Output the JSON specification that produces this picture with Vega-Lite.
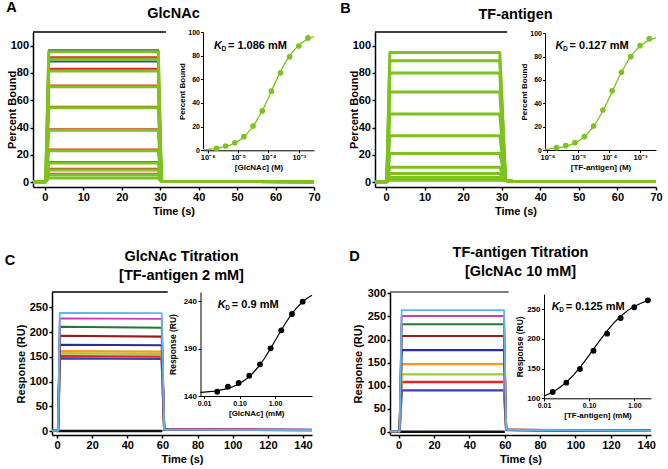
{
"$schema":"https://vega.github.io/schema/vega-lite/v6.json",
"padding":{"left":4,"top":0,"right":0,"bottom":0},
"background":"white",
"config":{
 "font":"Liberation Sans",
 "view":{"stroke":null},
 "axis":{"grid":false,"domainColor":"#000","domainWidth":1.5,"tickColor":"#000","tickWidth":1.5,"tickSize":3,"labelColor":"#000","labelFont":"Liberation Sans","labelFontSize":11,"labelFontWeight":"bold","labelPadding":1.5,"labelFlush":false,"labelOverlap":false,"titleColor":"#000","titleFont":"Liberation Sans","titleFontSize":11,"titleFontWeight":"bold","titlePadding":3,"tickCount":30},
 "title":{"font":"Liberation Sans","fontWeight":"bold","color":"#000","fontSize":14.5},
 "line":{"strokeJoin":"round"}
},
"datasets":{
 "trA":[
{"run":"g","conc":1,"t":-3.1,"v":0.3},{"run":"g","conc":1,"t":0.2,"v":0.3},{"run":"g","conc":1,"t":1,"v":95.5},{"run":"g","conc":1,"t":29.5,"v":95.5},{"run":"g","conc":1,"t":30.3,"v":0.6},{"run":"g","conc":1,"t":70,"v":0.4},
{"run":"g","conc":2,"t":-3.1,"v":0.3},{"run":"g","conc":2,"t":0.2,"v":0.3},{"run":"g","conc":2,"t":1,"v":90},{"run":"g","conc":2,"t":29.5,"v":90},{"run":"g","conc":2,"t":30.3,"v":0.6},{"run":"g","conc":2,"t":70,"v":0.4},
{"run":"g","conc":3,"t":-3.1,"v":0.3},{"run":"g","conc":3,"t":0.2,"v":0.3},{"run":"g","conc":3,"t":1,"v":81.5},{"run":"g","conc":3,"t":29.5,"v":81.5},{"run":"g","conc":3,"t":30.3,"v":0.6},{"run":"g","conc":3,"t":70,"v":0.4},
{"run":"g","conc":4,"t":-3.1,"v":0.3},{"run":"g","conc":4,"t":0.2,"v":0.3},{"run":"g","conc":4,"t":1,"v":70},{"run":"g","conc":4,"t":29.5,"v":70},{"run":"g","conc":4,"t":30.3,"v":0.6},{"run":"g","conc":4,"t":70,"v":0.4},
{"run":"g","conc":5,"t":-3.1,"v":0.3},{"run":"g","conc":5,"t":0.2,"v":0.3},{"run":"g","conc":5,"t":1,"v":54.5},{"run":"g","conc":5,"t":29.5,"v":54.5},{"run":"g","conc":5,"t":30.3,"v":0.6},{"run":"g","conc":5,"t":70,"v":0.4},
{"run":"g","conc":6,"t":-3.1,"v":0.3},{"run":"g","conc":6,"t":0.2,"v":0.3},{"run":"g","conc":6,"t":1,"v":38},{"run":"g","conc":6,"t":29.5,"v":38},{"run":"g","conc":6,"t":30.3,"v":0.6},{"run":"g","conc":6,"t":70,"v":0.4},
{"run":"g","conc":7,"t":-3.1,"v":0.3},{"run":"g","conc":7,"t":0.2,"v":0.3},{"run":"g","conc":7,"t":1,"v":23},{"run":"g","conc":7,"t":29.5,"v":23},{"run":"g","conc":7,"t":30.3,"v":0.6},{"run":"g","conc":7,"t":70,"v":0.4},
{"run":"g","conc":8,"t":-3.1,"v":0.3},{"run":"g","conc":8,"t":0.2,"v":0.3},{"run":"g","conc":8,"t":1,"v":14},{"run":"g","conc":8,"t":29.5,"v":14},{"run":"g","conc":8,"t":30.3,"v":0.6},{"run":"g","conc":8,"t":70,"v":0.4},
{"run":"g","conc":9,"t":-3.1,"v":0.3},{"run":"g","conc":9,"t":0.2,"v":0.3},{"run":"g","conc":9,"t":1,"v":9},{"run":"g","conc":9,"t":29.5,"v":9},{"run":"g","conc":9,"t":30.3,"v":0.6},{"run":"g","conc":9,"t":70,"v":0.4},
{"run":"g","conc":10,"t":-3.1,"v":0.3},{"run":"g","conc":10,"t":0.2,"v":0.3},{"run":"g","conc":10,"t":1,"v":5.5},{"run":"g","conc":10,"t":29.5,"v":5.5},{"run":"g","conc":10,"t":30.3,"v":0.6},{"run":"g","conc":10,"t":70,"v":0.4},
{"run":"g","conc":11,"t":-3.1,"v":0.3},{"run":"g","conc":11,"t":0.2,"v":0.3},{"run":"g","conc":11,"t":1,"v":3},{"run":"g","conc":11,"t":29.5,"v":3},{"run":"g","conc":11,"t":30.3,"v":0.6},{"run":"g","conc":11,"t":70,"v":0.4},
{"run":"r","conc":1,"t":-3.1,"v":0.5},{"run":"r","conc":1,"t":0.2,"v":0.5},{"run":"r","conc":1,"t":1,"v":91.5},{"run":"r","conc":1,"t":29.5,"v":91.5},{"run":"r","conc":1,"t":30.3,"v":1},{"run":"r","conc":1,"t":70,"v":0.5},
{"run":"r","conc":2,"t":-3.1,"v":0.5},{"run":"r","conc":2,"t":0.2,"v":0.5},{"run":"r","conc":2,"t":1,"v":83},{"run":"r","conc":2,"t":29.5,"v":83},{"run":"r","conc":2,"t":30.3,"v":1},{"run":"r","conc":2,"t":70,"v":0.5},
{"run":"r","conc":3,"t":-3.1,"v":0.5},{"run":"r","conc":3,"t":0.2,"v":0.5},{"run":"r","conc":3,"t":1,"v":70.8},{"run":"r","conc":3,"t":29.5,"v":70.8},{"run":"r","conc":3,"t":30.3,"v":1},{"run":"r","conc":3,"t":70,"v":0.5},
{"run":"r","conc":4,"t":-3.1,"v":0.5},{"run":"r","conc":4,"t":0.2,"v":0.5},{"run":"r","conc":4,"t":1,"v":55.2},{"run":"r","conc":4,"t":29.5,"v":55.2},{"run":"r","conc":4,"t":30.3,"v":1},{"run":"r","conc":4,"t":70,"v":0.5},
{"run":"r","conc":5,"t":-3.1,"v":0.5},{"run":"r","conc":5,"t":0.2,"v":0.5},{"run":"r","conc":5,"t":1,"v":38.8},{"run":"r","conc":5,"t":29.5,"v":38.8},{"run":"r","conc":5,"t":30.3,"v":1},{"run":"r","conc":5,"t":70,"v":0.5},
{"run":"r","conc":6,"t":-3.1,"v":0.5},{"run":"r","conc":6,"t":0.2,"v":0.5},{"run":"r","conc":6,"t":1,"v":23.8},{"run":"r","conc":6,"t":29.5,"v":23.8},{"run":"r","conc":6,"t":30.3,"v":1},{"run":"r","conc":6,"t":70,"v":0.5},
{"run":"r","conc":7,"t":-3.1,"v":0.5},{"run":"r","conc":7,"t":0.2,"v":0.5},{"run":"r","conc":7,"t":1,"v":14.8},{"run":"r","conc":7,"t":29.5,"v":14.8},{"run":"r","conc":7,"t":30.3,"v":1},{"run":"r","conc":7,"t":70,"v":0.5},
{"run":"r","conc":8,"t":-3.1,"v":0.5},{"run":"r","conc":8,"t":0.2,"v":0.5},{"run":"r","conc":8,"t":1,"v":9.8},{"run":"r","conc":8,"t":29.5,"v":9.8},{"run":"r","conc":8,"t":30.3,"v":1},{"run":"r","conc":8,"t":70,"v":0.5},
{"run":"r","conc":9,"t":-3.1,"v":0.5},{"run":"r","conc":9,"t":0.2,"v":0.5},{"run":"r","conc":9,"t":1,"v":6.2},{"run":"r","conc":9,"t":29.5,"v":6.2},{"run":"r","conc":9,"t":30.3,"v":1},{"run":"r","conc":9,"t":70,"v":0.5},
{"run":"b","conc":1,"t":-3.1,"v":0.2},{"run":"b","conc":1,"t":0.2,"v":0.2},{"run":"b","conc":1,"t":1,"v":96.8},{"run":"b","conc":1,"t":29.5,"v":96.8},{"run":"b","conc":1,"t":30.3,"v":0.4},{"run":"b","conc":1,"t":70,"v":0.2},
{"run":"b","conc":2,"t":-3.1,"v":0.2},{"run":"b","conc":2,"t":0.2,"v":0.2},{"run":"b","conc":2,"t":1,"v":88.4},{"run":"b","conc":2,"t":29.5,"v":88.4},{"run":"b","conc":2,"t":30.3,"v":0.4},{"run":"b","conc":2,"t":70,"v":0.2}
 ],
 "trB":[
{"conc":1,"t":-2.85,"v":0.3},{"conc":1,"t":0.2,"v":0.3},{"conc":1,"t":1,"v":95},{"conc":1,"t":29.5,"v":95},{"conc":1,"t":31,"v":1.2},{"conc":1,"t":33,"v":0.6},{"conc":1,"t":70,"v":0.6},
{"conc":2,"t":-2.85,"v":0.3},{"conc":2,"t":0.2,"v":0.3},{"conc":2,"t":1,"v":89},{"conc":2,"t":29.5,"v":89},{"conc":2,"t":31,"v":1.2},{"conc":2,"t":33,"v":0.6},{"conc":2,"t":70,"v":0.6},
{"conc":3,"t":-2.85,"v":0.3},{"conc":3,"t":0.2,"v":0.3},{"conc":3,"t":1,"v":80},{"conc":3,"t":29.5,"v":80},{"conc":3,"t":31,"v":1.2},{"conc":3,"t":33,"v":0.6},{"conc":3,"t":70,"v":0.6},
{"conc":4,"t":-2.85,"v":0.3},{"conc":4,"t":0.2,"v":0.3},{"conc":4,"t":1,"v":66},{"conc":4,"t":29.5,"v":66},{"conc":4,"t":31,"v":1.2},{"conc":4,"t":33,"v":0.6},{"conc":4,"t":70,"v":0.6},
{"conc":5,"t":-2.85,"v":0.3},{"conc":5,"t":0.2,"v":0.3},{"conc":5,"t":1,"v":50},{"conc":5,"t":29.5,"v":50},{"conc":5,"t":31,"v":1.2},{"conc":5,"t":33,"v":0.6},{"conc":5,"t":70,"v":0.6},
{"conc":6,"t":-2.85,"v":0.3},{"conc":6,"t":0.2,"v":0.3},{"conc":6,"t":1,"v":34},{"conc":6,"t":29.5,"v":34},{"conc":6,"t":31,"v":1.2},{"conc":6,"t":33,"v":0.6},{"conc":6,"t":70,"v":0.6},
{"conc":7,"t":-2.85,"v":0.3},{"conc":7,"t":0.2,"v":0.3},{"conc":7,"t":1,"v":21},{"conc":7,"t":29.5,"v":21},{"conc":7,"t":31,"v":1.2},{"conc":7,"t":33,"v":0.6},{"conc":7,"t":70,"v":0.6},
{"conc":8,"t":-2.85,"v":0.3},{"conc":8,"t":0.2,"v":0.3},{"conc":8,"t":1,"v":11},{"conc":8,"t":29.5,"v":11},{"conc":8,"t":31,"v":1.2},{"conc":8,"t":33,"v":0.6},{"conc":8,"t":70,"v":0.6},
{"conc":9,"t":-2.85,"v":0.3},{"conc":9,"t":0.2,"v":0.3},{"conc":9,"t":1,"v":6.3},{"conc":9,"t":29.5,"v":6.3},{"conc":9,"t":31,"v":1.2},{"conc":9,"t":33,"v":0.6},{"conc":9,"t":70,"v":0.6},
{"conc":10,"t":-2.85,"v":0.3},{"conc":10,"t":0.2,"v":0.3},{"conc":10,"t":1,"v":3.4},{"conc":10,"t":29.5,"v":3.4},{"conc":10,"t":31,"v":1.2},{"conc":10,"t":33,"v":0.6},{"conc":10,"t":70,"v":0.6},
{"conc":11,"t":-2.85,"v":0.3},{"conc":11,"t":0.2,"v":0.3},{"conc":11,"t":1,"v":1.5},{"conc":11,"t":29.5,"v":1.5},{"conc":11,"t":31,"v":1.2},{"conc":11,"t":33,"v":0.6},{"conc":11,"t":70,"v":0.6}
 ],
 "trC":[
{"conc":0,"t":-0.3,"v":0},{"conc":0,"t":60,"v":0},
{"conc":1,"t":-2.85,"v":1},{"conc":1,"t":0.6,"v":1},{"conc":1,"t":1.6,"v":146.8},{"conc":1,"t":59.6,"v":145.8},{"conc":1,"t":61,"v":3},{"conc":1,"t":145.1,"v":2},
{"conc":2,"t":-2.85,"v":1},{"conc":2,"t":0.6,"v":1},{"conc":2,"t":1.6,"v":151.5},{"conc":2,"t":59.6,"v":150.5},{"conc":2,"t":61,"v":3},{"conc":2,"t":145.1,"v":2},
{"conc":3,"t":-2.85,"v":1},{"conc":3,"t":0.6,"v":1},{"conc":3,"t":1.6,"v":157},{"conc":3,"t":59.6,"v":156},{"conc":3,"t":61,"v":3},{"conc":3,"t":145.1,"v":2},
{"conc":4,"t":-2.85,"v":1},{"conc":4,"t":0.6,"v":1},{"conc":4,"t":1.6,"v":161.6},{"conc":4,"t":59.6,"v":160.6},{"conc":4,"t":61,"v":3},{"conc":4,"t":145.1,"v":2},
{"conc":5,"t":-2.85,"v":1},{"conc":5,"t":0.6,"v":1},{"conc":5,"t":1.6,"v":174.4},{"conc":5,"t":59.6,"v":173.4},{"conc":5,"t":61,"v":3},{"conc":5,"t":145.1,"v":2},
{"conc":6,"t":-2.85,"v":1},{"conc":6,"t":0.6,"v":1},{"conc":6,"t":1.6,"v":192.6},{"conc":6,"t":59.6,"v":190.8},{"conc":6,"t":61,"v":3},{"conc":6,"t":145.1,"v":2},
{"conc":7,"t":-2.85,"v":1},{"conc":7,"t":0.6,"v":1},{"conc":7,"t":1.6,"v":210.7},{"conc":7,"t":59.6,"v":208.7},{"conc":7,"t":61,"v":3},{"conc":7,"t":145.1,"v":2},
{"conc":8,"t":-2.85,"v":1},{"conc":8,"t":0.6,"v":1},{"conc":8,"t":1.6,"v":227.6},{"conc":8,"t":59.6,"v":226.6},{"conc":8,"t":61,"v":3.5},{"conc":8,"t":145.1,"v":2.5},
{"conc":9,"t":-2.85,"v":1},{"conc":9,"t":0.6,"v":1},{"conc":9,"t":1.6,"v":239},{"conc":9,"t":59.6,"v":238.5},{"conc":9,"t":61,"v":3},{"conc":9,"t":145.1,"v":2}
 ],
 "trD":[
{"conc":0,"t":-0.5,"v":0},{"conc":0,"t":60,"v":0},
{"conc":1,"t":-4.9,"v":1},{"conc":1,"t":0.5,"v":1},{"conc":1,"t":1.7,"v":89.8},{"conc":1,"t":59.6,"v":89.8},{"conc":1,"t":60.8,"v":4},{"conc":1,"t":142.7,"v":2},
{"conc":2,"t":-4.9,"v":1},{"conc":2,"t":0.5,"v":1},{"conc":2,"t":1.7,"v":107.8},{"conc":2,"t":59.6,"v":107.8},{"conc":2,"t":60.8,"v":4},{"conc":2,"t":142.7,"v":2},
{"conc":3,"t":-4.9,"v":1},{"conc":3,"t":0.5,"v":1},{"conc":3,"t":1.7,"v":124.5},{"conc":3,"t":59.6,"v":124.5},{"conc":3,"t":60.8,"v":4},{"conc":3,"t":142.7,"v":2},
{"conc":4,"t":-4.9,"v":1},{"conc":4,"t":0.5,"v":1},{"conc":4,"t":1.7,"v":146.8},{"conc":4,"t":59.6,"v":146.8},{"conc":4,"t":60.8,"v":4},{"conc":4,"t":142.7,"v":2},
{"conc":5,"t":-4.9,"v":1},{"conc":5,"t":0.5,"v":1},{"conc":5,"t":1.7,"v":177},{"conc":5,"t":59.6,"v":177},{"conc":5,"t":60.8,"v":4},{"conc":5,"t":142.7,"v":2},
{"conc":6,"t":-4.9,"v":1},{"conc":6,"t":0.5,"v":1},{"conc":6,"t":1.7,"v":207.5},{"conc":6,"t":59.6,"v":207.5},{"conc":6,"t":60.8,"v":4},{"conc":6,"t":142.7,"v":2},
{"conc":7,"t":-4.9,"v":1},{"conc":7,"t":0.5,"v":1},{"conc":7,"t":1.7,"v":233},{"conc":7,"t":59.6,"v":233},{"conc":7,"t":60.8,"v":4},{"conc":7,"t":142.7,"v":2},
{"conc":8,"t":-4.9,"v":1},{"conc":8,"t":0.5,"v":1},{"conc":8,"t":1.7,"v":251},{"conc":8,"t":59.6,"v":251},{"conc":8,"t":60.8,"v":4.5},{"conc":8,"t":142.7,"v":3},
{"conc":9,"t":-4.9,"v":1},{"conc":9,"t":0.5,"v":1},{"conc":9,"t":1.7,"v":263.9},{"conc":9,"t":59.6,"v":263.9},{"conc":9,"t":60.8,"v":4},{"conc":9,"t":142.7,"v":2}
 ],
 "fitA":[{"x":7e-7,"y":0.56},{"x":1e-6,"y":0.79},{"x":2e-6,"y":1.57},{"x":4e-6,"y":3.1},{"x":8e-6,"y":6.02},{"x":1.6e-5,"y":11.35},{"x":3.2e-5,"y":20.38},{"x":6.4e-5,"y":33.86},{"x":1e-4,"y":44.44},{"x":1.25e-4,"y":50},{"x":1.6e-4,"y":56.14},{"x":2.5e-4,"y":66.67},{"x":4e-4,"y":76.19},{"x":6.4e-4,"y":83.66},{"x":1e-3,"y":88.89},{"x":1.6e-3,"y":92.75},{"x":3.16e-3,"y":96.19}],
 "fitB":[{"x":8.3e-7,"y":0.66},{"x":1e-6,"y":0.79},{"x":2e-6,"y":1.57},{"x":4e-6,"y":3.1},{"x":8e-6,"y":6.02},{"x":1.6e-5,"y":11.35},{"x":3.2e-5,"y":20.38},{"x":6.4e-5,"y":33.86},{"x":1e-4,"y":44.44},{"x":1.25e-4,"y":50},{"x":1.6e-4,"y":56.14},{"x":2.5e-4,"y":66.67},{"x":4e-4,"y":76.19},{"x":6.4e-4,"y":83.66},{"x":1e-3,"y":88.89},{"x":1.6e-3,"y":92.75},{"x":3.3e-3,"y":96.35}],
 "ptA":[{"x":1.95e-6,"y":1.7},{"x":3.9e-6,"y":3.6},{"x":7.8e-6,"y":6.4},{"x":1.56e-5,"y":11.5},{"x":3.125e-5,"y":20.5},{"x":6.25e-5,"y":33.3},{"x":1.25e-4,"y":50},{"x":2.5e-4,"y":65.5},{"x":5e-4,"y":79},{"x":1e-3,"y":88.2},{"x":2e-3,"y":95}],
 "ptB":[{"x":1.95e-6,"y":2},{"x":3.9e-6,"y":3.7},{"x":7.8e-6,"y":6.3},{"x":1.56e-5,"y":11.4},{"x":3.125e-5,"y":20.6},{"x":6.25e-5,"y":34.3},{"x":1.25e-4,"y":50.8},{"x":2.5e-4,"y":66.6},{"x":5e-4,"y":80},{"x":1e-3,"y":89.4},{"x":2e-3,"y":95.4}],
 "fitC":[{"x":0.0079,"y":143.8},{"x":0.01,"y":144.1},{"x":0.02,"y":145.1},{"x":0.05,"y":148.1},{"x":0.1,"y":152.8},{"x":0.2,"y":161.1},{"x":0.35,"y":171.3},{"x":0.5,"y":179.5},{"x":0.75,"y":190.1},{"x":1,"y":198.1},{"x":1.5,"y":209.5},{"x":2,"y":217.1},{"x":3,"y":226.7},{"x":4,"y":232.5},{"x":6,"y":239.2},{"x":8,"y":242.9},{"x":11,"y":246.2}],
 "ptC":[{"x":0.0234,"y":144.5},{"x":0.0469,"y":149.8},{"x":0.0938,"y":153.7},{"x":0.1875,"y":161.4},{"x":0.375,"y":173.3},{"x":0.75,"y":190.2},{"x":1.5,"y":209.1},{"x":3,"y":226.3},{"x":6,"y":239.3}],
 "fitD":[{"x":0.01,"y":103.7},{"x":0.015,"y":109.8},{"x":0.02,"y":115.5},{"x":0.03,"y":125.8},{"x":0.045,"y":139},{"x":0.065,"y":153.3},{"x":0.09,"y":167.4},{"x":0.125,"y":182.5},{"x":0.18,"y":199.2},{"x":0.25,"y":213.3},{"x":0.35,"y":226.3},{"x":0.5,"y":238},{"x":0.7,"y":247},{"x":1,"y":254.4},{"x":1.4,"y":259.8},{"x":2,"y":264.1},{"x":2.35,"y":265.7}],
 "ptD":[{"x":0.0156,"y":110.6},{"x":0.03125,"y":126.3},{"x":0.0625,"y":149.2},{"x":0.125,"y":180},{"x":0.25,"y":208.6},{"x":0.5,"y":235},{"x":1,"y":253},{"x":2,"y":264.7}]
},
"spacing":28,
"align":"none",
"vconcat":[
{"hconcat":[
 {"title":{"text":"A","anchor":"start","fontSize":14.5,"offset":-10,"frame":"bounds"},
  "vconcat":[{
   "title":{"text":"GlcNAc","offset":7,"frame":"group","anchor":"middle"},
   "width":281,"height":155,
   "layer":[
    {"layer":[
     {"data":{"values":[{}]},"mark":{"type":"rule","color":"#000","strokeWidth":1.5},
      "encoding":{"x":{"datum":-3.1,"type":"quantitative"},"x2":{"datum":31.5},"y":{"datum":110,"type":"quantitative"}}},
     {"data":{"name":"trA"},"transform":[{"filter":"datum.run == 'r'"}],"mark":{"type":"line","color":"#e3262b","strokeWidth":2.2},
      "encoding":{"x":{"field":"t","type":"quantitative","scale":{"domain":[-3.1,70],"nice":false,"zero":false},"axis":{"title":"Time (s)","orient":"bottom","values":[0,10,20,30,40,50,60,70],"tickCount":30}},
       "y":{"field":"v","type":"quantitative","scale":{"domain":[-3.5,110],"nice":false,"zero":false},"axis":{"title":"Percent Bound","orient":"left","values":[0,20,40,60,80,100],"titlePadding":-7,"tickCount":30}},
       "detail":{"field":"conc","type":"nominal"}}},
     {"data":{"name":"trA"},"transform":[{"filter":"datum.run == 'b'"}],"mark":{"type":"line","color":"#3a48c4","strokeWidth":1.8},
      "encoding":{"x":{"field":"t","type":"quantitative"},"y":{"field":"v","type":"quantitative"},"detail":{"field":"conc","type":"nominal"}}},
     {"data":{"name":"trA"},"transform":[{"filter":"datum.run == 'g'"}],"mark":{"type":"line","color":"#7dc21e","strokeWidth":3},
      "encoding":{"x":{"field":"t","type":"quantitative"},"y":{"field":"v","type":"quantitative"},"detail":{"field":"conc","type":"nominal"}}}
    ]},
    {"layer":[
     {"data":{"name":"fitA"},"mark":{"type":"line","color":"#7dc21e","strokeWidth":1.3},
      "encoding":{"x":{"field":"x","type":"quantitative","scale":{"type":"log","domain":[7e-7,3.16e-3],"range":[170,281],"nice":false},
        "axis":{"title":"[GlcNAc] (M)","orient":"bottom","offset":-36.7,"values":[1e-6,1e-5,1e-4,1e-3],"tickCount":30,"labelExpr":"datum.value < 5e-6 ? '10⁻⁶' : datum.value < 5e-5 ? '10⁻⁵' : datum.value < 5e-4 ? '10⁻⁴' : '10⁻³'","labelFontSize":7.5,"titleFontSize":8,"tickSize":2.5,"domainWidth":1,"tickWidth":1,"labelPadding":1,"titlePadding":2}},
       "y":{"field":"y","type":"quantitative","scale":{"domain":[0,100],"range":[118.3,0],"nice":false,"zero":false},
        "axis":{"title":"Percent Bound","orient":"left","offset":-170,"values":[0,20,40,60,80,100],"tickCount":30,"labelFontSize":7,"titleFontSize":8,"tickSize":2.5,"domainWidth":1,"tickWidth":1,"labelPadding":1,"titlePadding":1}}}},
     {"data":{"name":"ptA"},"mark":{"type":"circle","color":"#7dc21e","size":32,"opacity":1},
      "encoding":{"x":{"field":"x","type":"quantitative"},"y":{"field":"y","type":"quantitative"}}},
     {"data":{"values":[{}]},"mark":{"type":"text","text":"K","align":"left","baseline":"middle","fontSize":11,"fontWeight":"bold","fontStyle":"italic","color":"#000"},
      "encoding":{"x":{"datum":1.6e-6,"type":"quantitative"},"y":{"datum":88,"type":"quantitative"}}},
     {"data":{"values":[{}]},"mark":{"type":"text","text":"D","align":"left","baseline":"middle","fontSize":6.5,"fontWeight":"bold","dx":7.5,"dy":3,"color":"#000"},
      "encoding":{"x":{"datum":1.6e-6,"type":"quantitative"},"y":{"datum":88,"type":"quantitative"}}},
     {"data":{"values":[{}]},"mark":{"type":"text","text":"= 1.086 mM","align":"left","baseline":"middle","fontSize":11,"fontWeight":"bold","dx":14,"color":"#000"},
      "encoding":{"x":{"datum":1.6e-6,"type":"quantitative"},"y":{"datum":88,"type":"quantitative"}}}
    ]}
   ],
   "resolve":{"scale":{"x":"independent","y":"independent"},"axis":{"x":"independent","y":"independent"}}
  }]
 },
 {"title":{"text":"B","anchor":"start","fontSize":14.5,"offset":-10,"dx":-8,"frame":"bounds"},
  "vconcat":[{
   "title":{"text":"TF-antigen","offset":7,"frame":"group","anchor":"middle"},
   "width":281,"height":155,
   "layer":[
    {"layer":[
     {"data":{"values":[{}]},"mark":{"type":"rule","color":"#000","strokeWidth":1.5},
      "encoding":{"x":{"datum":-2.85,"type":"quantitative"},"x2":{"datum":31.4},"y":{"datum":110,"type":"quantitative"}}},
     {"data":{"name":"trB"},"mark":{"type":"line","color":"#7dc21e","strokeWidth":3},
      "encoding":{"x":{"field":"t","type":"quantitative","scale":{"domain":[-2.85,70],"nice":false,"zero":false},"axis":{"title":"Time (s)","orient":"bottom","values":[0,10,20,30,40,50,60,70],"tickCount":30}},
       "y":{"field":"v","type":"quantitative","scale":{"domain":[-3.5,110],"nice":false,"zero":false},"axis":{"title":"Percent Bound","orient":"left","values":[0,20,40,60,80,100],"titlePadding":-7,"tickCount":30}},
       "detail":{"field":"conc","type":"nominal"}}}
    ]},
    {"layer":[
     {"data":{"name":"fitB"},"mark":{"type":"line","color":"#7dc21e","strokeWidth":1.3},
      "encoding":{"x":{"field":"x","type":"quantitative","scale":{"type":"log","domain":[8.3e-7,3.3e-3],"range":[170,281],"nice":false},
        "axis":{"title":"[TF-antigen] (M)","orient":"bottom","offset":-37,"values":[1e-6,1e-5,1e-4,1e-3],"tickCount":30,"labelExpr":"datum.value < 5e-6 ? '10⁻⁶' : datum.value < 5e-5 ? '10⁻⁵' : datum.value < 5e-4 ? '10⁻⁴' : '10⁻³'","labelFontSize":7.5,"titleFontSize":8,"tickSize":2.5,"domainWidth":1,"tickWidth":1,"labelPadding":1,"titlePadding":2}},
       "y":{"field":"y","type":"quantitative","scale":{"domain":[0,100],"range":[118,1.3],"nice":false,"zero":false},
        "axis":{"title":"Percent Bound","orient":"left","offset":-170,"values":[0,20,40,60,80,100],"tickCount":30,"labelFontSize":7,"titleFontSize":8,"tickSize":2.5,"domainWidth":1,"tickWidth":1,"labelPadding":1,"titlePadding":1}}}},
     {"data":{"name":"ptB"},"mark":{"type":"circle","color":"#7dc21e","size":32,"opacity":1},
      "encoding":{"x":{"field":"x","type":"quantitative"},"y":{"field":"y","type":"quantitative"}}},
     {"data":{"values":[{}]},"mark":{"type":"text","text":"K","align":"left","baseline":"middle","fontSize":11,"fontWeight":"bold","fontStyle":"italic","color":"#000"},
      "encoding":{"x":{"datum":1.83e-6,"type":"quantitative"},"y":{"datum":89,"type":"quantitative"}}},
     {"data":{"values":[{}]},"mark":{"type":"text","text":"D","align":"left","baseline":"middle","fontSize":6.5,"fontWeight":"bold","dx":7.5,"dy":3,"color":"#000"},
      "encoding":{"x":{"datum":1.83e-6,"type":"quantitative"},"y":{"datum":89,"type":"quantitative"}}},
     {"data":{"values":[{}]},"mark":{"type":"text","text":"= 0.127 mM","align":"left","baseline":"middle","fontSize":11,"fontWeight":"bold","dx":14,"color":"#000"},
      "encoding":{"x":{"datum":1.83e-6,"type":"quantitative"},"y":{"datum":89,"type":"quantitative"}}}
    ]}
   ],
   "resolve":{"scale":{"x":"independent","y":"independent"},"axis":{"x":"independent","y":"independent"}}
  }]
 }
],"spacing":19},
{"hconcat":[
 {"title":{"text":"C","anchor":"start","align":"right","fontSize":14.5,"offset":-19,"frame":"bounds"},
  "vconcat":[{
   "title":{"text":["GlcNAc Titration","[TF-antigen 2 mM]"],"offset":8,"dx":9,"lineHeight":18.7,"frame":"group","anchor":"middle"},
   "width":279,"height":143,
   "layer":[
    {"layer":[
     {"data":{"values":[{}]},"mark":{"type":"rule","color":"#000","strokeWidth":1.5},
      "encoding":{"x":{"datum":-2.85,"type":"quantitative"},"x2":{"datum":63},"y":{"datum":281,"type":"quantitative"}}},
     {"data":{"name":"trC"},"mark":{"type":"line"},
      "encoding":{"x":{"field":"t","type":"quantitative","scale":{"domain":[-2.85,145.1],"range":[19,279],"nice":false,"zero":false},"axis":{"title":"Time (s)","orient":"bottom","values":[0,20,40,60,80,100,120,140],"tickCount":30}},
       "y":{"field":"v","type":"quantitative","scale":{"domain":[-8,281],"nice":false,"zero":false},"axis":{"title":"Response (RU)","orient":"left","offset":-19,"values":[0,50,100,150,200,250],"titlePadding":3,"tickCount":30}},
       "color":{"field":"conc","type":"nominal","scale":{"domain":[0,1,2,3,4,5,6,7,8,9],"range":["#111111","#3d3db5","#e0262b","#9ccb3b","#f39a1f","#2b2b95","#9b1b1b","#1f7a33","#c13fb3","#5cb8e8"]},"legend":null},
       "strokeWidth":{"field":"conc","type":"ordinal","scale":{"domain":[0,1,2,3,4,5,6,7,8,9],"range":[2.5,1.8,1.8,1.8,1.8,1.8,1.8,1.8,1.8,2.6]},"legend":null}}}
    ]},
    {"layer":[
     {"data":{"name":"fitC"},"mark":{"type":"line","color":"#000","strokeWidth":1.2},
      "encoding":{"x":{"field":"x","type":"quantitative","scale":{"type":"log","domain":[0.0079,11],"range":[167.5,279],"nice":false},
        "axis":{"title":"[GlcNAc] (mM)","orient":"bottom","offset":-39,"values":[0.01,0.1,1],"tickCount":30,"format":".2f","labelFontSize":7,"titleFontSize":8,"tickSize":2.5,"domainWidth":1,"tickWidth":1,"labelPadding":1,"titlePadding":3}},
       "y":{"field":"y","type":"quantitative","scale":{"domain":[140,249.5],"range":[104,0],"nice":false,"zero":false},
        "axis":{"title":"Response (RU)","orient":"left","offset":-167.5,"values":[140,190,240],"tickCount":30,"labelFontSize":8,"titleFontSize":8.5,"tickSize":2.5,"domainWidth":1,"tickWidth":1,"labelPadding":1.5,"titlePadding":6}}}},
     {"data":{"name":"ptC"},"mark":{"type":"circle","color":"#000","size":34,"opacity":1},
      "encoding":{"x":{"field":"x","type":"quantitative"},"y":{"field":"y","type":"quantitative"}}},
     {"data":{"values":[{}]},"mark":{"type":"text","text":"K","align":"left","baseline":"middle","fontSize":11,"fontWeight":"bold","fontStyle":"italic","color":"#000"},
      "encoding":{"x":{"datum":0.0243,"type":"quantitative"},"y":{"datum":236,"type":"quantitative"}}},
     {"data":{"values":[{}]},"mark":{"type":"text","text":"D","align":"left","baseline":"middle","fontSize":6.5,"fontWeight":"bold","dx":7.5,"dy":3,"color":"#000"},
      "encoding":{"x":{"datum":0.0243,"type":"quantitative"},"y":{"datum":236,"type":"quantitative"}}},
     {"data":{"values":[{}]},"mark":{"type":"text","text":"= 0.9 mM","align":"left","baseline":"middle","fontSize":11,"fontWeight":"bold","dx":14,"color":"#000"},
      "encoding":{"x":{"datum":0.0243,"type":"quantitative"},"y":{"datum":236,"type":"quantitative"}}}
    ]}
   ],
   "resolve":{"scale":{"x":"independent","y":"independent"},"axis":{"x":"independent","y":"independent"}}
  }]
 },
 {"title":{"text":"D","anchor":"start","fontSize":14.5,"offset":-19,"dx":-3,"frame":"bounds"},
  "vconcat":[{
   "title":{"text":["TF-antigen Titration","[GlcNAc 10 mM]"],"offset":8,"lineHeight":18.7,"frame":"group","anchor":"middle"},
   "width":261,"height":143,
   "layer":[
    {"layer":[
     {"data":{"values":[{}]},"mark":{"type":"rule","color":"#555555","strokeWidth":1.5},
      "encoding":{"x":{"datum":-4.9,"type":"quantitative"},"x2":{"datum":62.2},"y":{"datum":303,"type":"quantitative"}}},
     {"data":{"name":"trD"},"mark":{"type":"line"},
      "encoding":{"x":{"field":"t","type":"quantitative","scale":{"domain":[-4.9,142.7],"nice":false,"zero":false},"axis":{"title":"Time (s)","orient":"bottom","values":[0,20,40,60,80,100,120,140],"tickCount":30}},
       "y":{"field":"v","type":"quantitative","scale":{"domain":[-7,303],"nice":false,"zero":false},"axis":{"title":"Response (RU)","orient":"left","values":[0,50,100,150,200,250,300],"titlePadding":4,"tickCount":30}},
       "color":{"field":"conc","type":"nominal","scale":{"domain":[0,1,2,3,4,5,6,7,8,9],"range":["#111111","#8b7d2b","#8e8e8e","#b36fd6","#167b7b","#7b4b3c","#111111","#3a4bc6","#e52a2a","#7cc41f"]},"legend":null},
       "strokeWidth":{"field":"conc","type":"ordinal","scale":{"domain":[0,1,2,3,4,5,6,7,8,9],"range":[2.5,1.8,1.8,1.8,1.8,1.8,1.8,1.8,1.8,2.6]},"legend":null}}}
    ]},
    {"layer":[
     {"data":{"name":"fitD"},"mark":{"type":"line","color":"#000","strokeWidth":1.2},
      "encoding":{"x":{"field":"x","type":"quantitative","scale":{"type":"log","domain":[0.01,2.35],"range":[154,261],"nice":false},
        "axis":{"title":"[TF-antigen] (mM)","orient":"bottom","offset":-36.7,"values":[0.01,0.1,1],"tickCount":30,"format":".2f","labelFontSize":7,"titleFontSize":8,"tickSize":2.5,"domainWidth":1,"tickWidth":1,"labelPadding":1,"titlePadding":3}},
       "y":{"field":"y","type":"quantitative","scale":{"domain":[100,275],"range":[106.3,2.2],"nice":false,"zero":false},
        "axis":{"title":"Response (RU)","orient":"left","offset":-154,"values":[100,150,200,250],"tickCount":30,"labelFontSize":8,"titleFontSize":8.5,"tickSize":2.5,"domainWidth":1,"tickWidth":1,"labelPadding":1.5,"titlePadding":2}}}},
     {"data":{"name":"ptD"},"mark":{"type":"circle","color":"#000","size":34,"opacity":1},
      "encoding":{"x":{"field":"x","type":"quantitative"},"y":{"field":"y","type":"quantitative"}}},
     {"data":{"values":[{}]},"mark":{"type":"text","text":"K","align":"left","baseline":"middle","fontSize":11,"fontWeight":"bold","fontStyle":"italic","color":"#000"},
      "encoding":{"x":{"datum":0.0148,"type":"quantitative"},"y":{"datum":254,"type":"quantitative"}}},
     {"data":{"values":[{}]},"mark":{"type":"text","text":"D","align":"left","baseline":"middle","fontSize":6.5,"fontWeight":"bold","dx":7.5,"dy":3,"color":"#000"},
      "encoding":{"x":{"datum":0.0148,"type":"quantitative"},"y":{"datum":254,"type":"quantitative"}}},
     {"data":{"values":[{}]},"mark":{"type":"text","text":"= 0.125 mM","align":"left","baseline":"middle","fontSize":11,"fontWeight":"bold","dx":14,"color":"#000"},
      "encoding":{"x":{"datum":0.0148,"type":"quantitative"},"y":{"datum":254,"type":"quantitative"}}}
    ]}
   ],
   "resolve":{"scale":{"x":"independent","y":"independent"},"axis":{"x":"independent","y":"independent"}}
  }]
 }
],"spacing":35}
]
}
